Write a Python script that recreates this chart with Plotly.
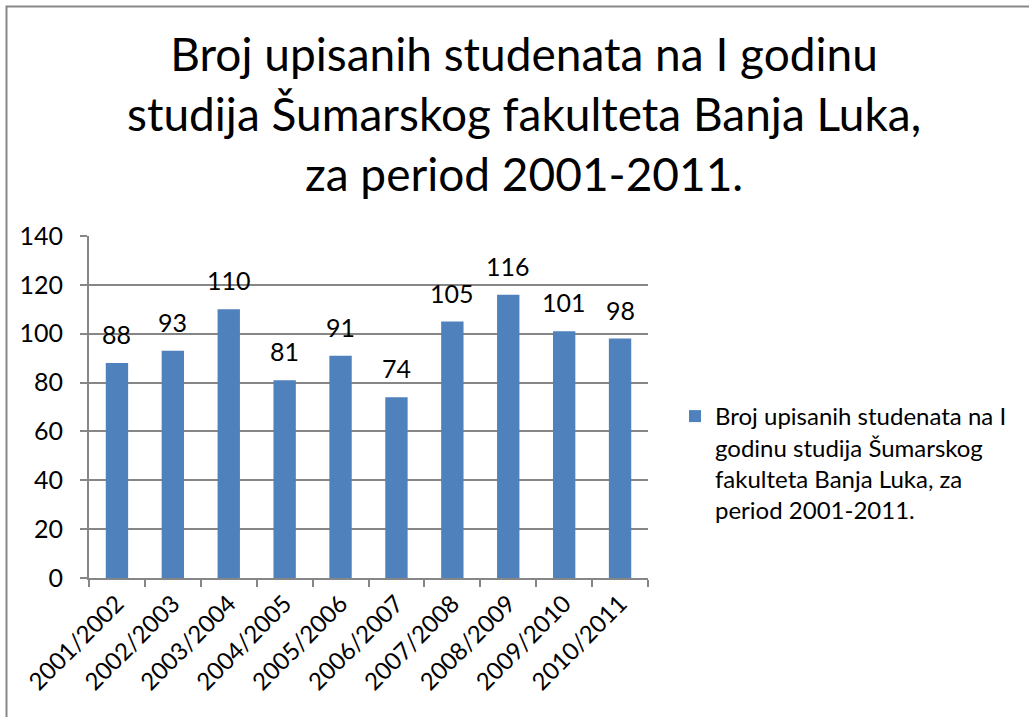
import plotly.graph_objects as go

categories = ["2001/2002", "2002/2003", "2003/2004", "2004/2005", "2005/2006",
              "2006/2007", "2007/2008", "2008/2009", "2009/2010", "2010/2011"]
values = [88, 93, 110, 81, 91, 74, 105, 116, 101, 98]
series_name = "Broj upisanih studenata na I<br>godinu studija Šumarskog<br>fakulteta Banja Luka, za<br>period 2001-2011."
title_text = "Broj upisanih studenata na I godinu<br>studija Šumarskog fakulteta Banja Luka,<br>za period 2001-2011."
y_ticks = [0, 20, 40, 60, 80, 100, 120, 140]

W, H = 1029, 717
L, R, T, B = 89, W - 648, 236, H - 578
pw, ph = W - L - R, H - T - B

FONT = "Lato"
GRID = "#868686"
BAR = "#4F81BD"

fig = go.Figure()
fig.add_trace(go.Bar(x=categories, y=values, name=series_name,
                     marker=dict(color=BAR, line=dict(width=0))))

for c, v in zip(categories, values):
    fig.add_annotation(x=c, y=v, text=str(v), showarrow=False, yanchor="bottom",
                       yshift=12, font=dict(family=FONT, size=25, color="black"))

def px_to_paper_x(p):
    return (p - L) / pw

def px_to_paper_y(p):
    return (H - B - p) / ph

# chart frame
fig.add_shape(type="rect", xref="paper", yref="paper",
              x0=px_to_paper_x(6.5), x1=px_to_paper_x(W + 30),
              y0=px_to_paper_y(H + 30), y1=px_to_paper_y(6.5),
              line=dict(color="#878787", width=2), fillcolor="rgba(0,0,0,0)", layer="below")

# title
fig.add_annotation(text=title_text, xref="paper", yref="paper",
                   x=px_to_paper_x(524), y=px_to_paper_y(24),
                   xanchor="center", yanchor="top", align="center", showarrow=False,
                   font=dict(family=FONT, size=46, color="black"))

fig.update_layout(
    width=W, height=H,
    margin=dict(l=L, r=R, t=T, b=B, autoexpand=False),
    paper_bgcolor="white", plot_bgcolor="white",
    bargap=0.6,
    showlegend=True,
    legend=dict(x=px_to_paper_x(675), y=px_to_paper_y(394), xanchor="left", yanchor="top",
                font=dict(family=FONT, size=24, color="black"), valign="top",
                bgcolor="rgba(0,0,0,0)", itemwidth=30, tracegroupgap=0),
    xaxis=dict(type="category", showgrid=False, showline=True, linecolor=GRID, linewidth=2,
               ticks="outside", tickson="boundaries", ticklen=7, tickcolor=GRID, tickwidth=2,
               tickangle=-45, tickfont=dict(family=FONT, size=24, color="black")),
    yaxis=dict(range=[0, 140], tickvals=y_ticks, showgrid=True, gridcolor=GRID, gridwidth=2,
               showline=True, linecolor=GRID, linewidth=2, zeroline=False,
               ticks="outside", ticklen=7, tickcolor=GRID, tickwidth=2,
               ticklabelstandoff=12,
               tickfont=dict(family=FONT, size=25, color="black")),
)

fig.write_html("out.html", config={"displayModeBar": False},
               post_script="document.body.style.margin='0';document.body.style.overflow='hidden';")
